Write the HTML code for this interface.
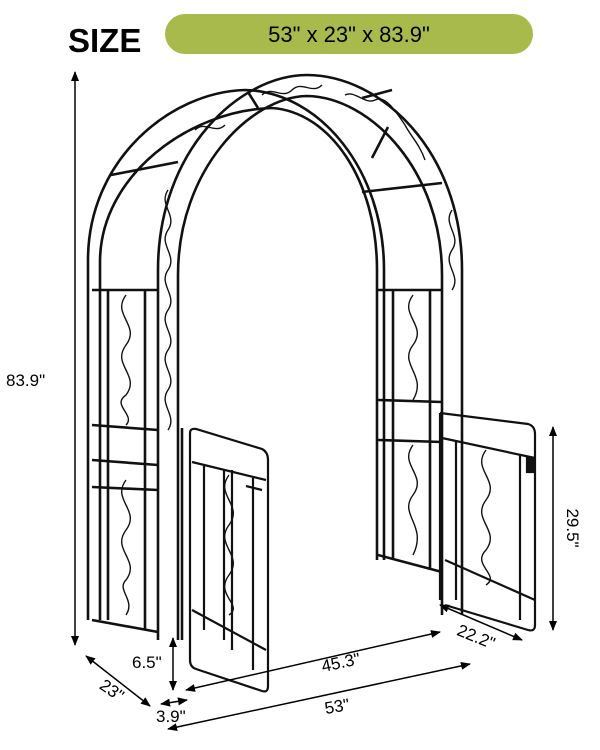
<!DOCTYPE html>
<html><head><meta charset="utf-8"><style>
html,body{margin:0;padding:0;background:#fff;}
svg{display:block;}
text{font-family:"Liberation Sans",Arial,sans-serif;}
</style></head><body>
<svg width="600" height="750" viewBox="0 0 600 750" xmlns="http://www.w3.org/2000/svg">
<defs>
<marker id="ah" markerWidth="10" markerHeight="10" refX="9" refY="5" orient="auto-start-reverse" markerUnits="userSpaceOnUse"><path d="M0,1 L10,5 L0,9 z" fill="#000"/></marker>
</defs>
<text x="68" y="52" font-size="33" font-weight="bold" fill="#000">SIZE</text>
<rect x="165" y="14" width="368" height="40" rx="20" fill="#a9ba4c"/>
<text x="349" y="42" font-size="22" text-anchor="middle" fill="#000">53" x 23" x 83.9"</text>

<g fill="none" stroke="#111" stroke-width="2.6">
<!-- back arch -->
<path d="M88 620 L88 260 C88 160 170 92 245 90 C320 92 384 170 384 270 L384 560"/>
<path d="M100 620 L100 262 C100 175 190 110 272 108 C330 112 377 180 377 270 L377 560"/>
<!-- front arch -->
<path d="M158 640 L158 270 C158 150 240 75 307 75 C380 75 462 150 462 270 L462 615"/>
<path d="M178 640 L178 275 C178 170 250 97 307 96 C370 97 442 170 442 275 L442 615"/>
<!-- connecting top bars -->
<path d="M111 175 L178 162 M248 92 L258 108 M362 98 L392 90 M362 192 L442 183 M388 127 L372 158"/>
<!-- left side panel -->
<path d="M92 290 L158 290 M92 425 L158 430 M92 460 L158 465 M92 487 L158 490 M92 620 L158 632"/>
<path d="M108 290 L108 620 M145 290 L145 630"/>
<!-- right side panel -->
<path d="M378 290 L442 290 M378 400 L442 402 M378 440 L442 442 M378 555 L442 572"/>
<path d="M393 290 L393 560 M430 290 L430 570"/>
<!-- hinge posts -->
<path d="M182 428 L182 640"/>
</g>
<g fill="none" stroke="#111" stroke-width="2.2">
<!-- left gate (perspective) -->
<path d="M190 433 Q190 428 196 429 L262 449 Q268 452 268 460 L268 686 Q268 693 262 691 L196 669 Q190 667 190 660 Z"/>
<path d="M192 462 L266 480 M192 610 L266 650 M204 466 L204 630 M253 478 L253 670 M224 470 L224 640 M232 470 L232 650 M246 486 L262 490"/>
<!-- right gate -->
<path d="M440 413 L528 424 Q535 426 535 434 L535 625 Q535 632 528 630 L445 605"/>
<path d="M440 413 L440 600 M442 438 L535 458 M445 560 L535 600 M456 440 L456 600 M520 455 L520 620"/>
<rect x="527" y="458" width="7" height="14" fill="#111"/>
</g>
<!-- scrolls -->
<g fill="none" stroke="#111" stroke-width="1.4">
<path d="M126 295 c-15 20 15 30 0 50 c-15 20 15 30 0 50 c-15 10 10 20 0 30"/>
<path d="M126 480 c-15 20 15 30 0 50 c-15 20 15 30 0 50 c-10 10 10 20 0 35"/>
<path d="M413 295 c-15 20 15 30 0 50 c-15 20 15 30 0 55"/>
<path d="M413 445 c-15 20 15 30 0 50 c-15 20 15 30 0 60"/>
<path d="M229 475 c-15 20 15 30 0 50 c-15 20 15 30 0 50 c-15 20 15 30 0 40"/>
<path d="M486 450 c-15 20 15 30 0 50 c-15 20 15 30 0 50 c-15 15 15 25 0 35"/>
<path d="M168 190 c-10 15 10 25 0 40 c-10 15 10 25 0 40 c-10 15 10 25 0 40 c-10 15 10 25 0 40 c-10 15 10 25 0 40 c-10 15 10 25 0 40"/>
<path d="M452 210 c-10 15 10 25 0 40 c-10 15 10 25 0 40"/>
<path d="M195 130 c10 -10 20 5 30 -5 M262 95 c10 -10 20 5 30 -5 c10 -10 20 5 30 -5"/>
<path d="M345 95 c10 -5 20 10 30 5 c10 -5 20 10 30 25 c5 10 15 20 20 35"/>
</g>

<!-- dimension lines -->
<g stroke="#000" stroke-width="1.5" fill="none">
<line x1="75" y1="72" x2="75" y2="645" marker-start="url(#ah)" marker-end="url(#ah)"/>
<line x1="553" y1="427" x2="553" y2="630" marker-start="url(#ah)" marker-end="url(#ah)"/>
<line x1="440" y1="605" x2="522" y2="640" marker-start="url(#ah)" marker-end="url(#ah)"/>
<line x1="186" y1="690" x2="440" y2="632" marker-start="url(#ah)" marker-end="url(#ah)"/>
<line x1="168" y1="729" x2="470" y2="664" marker-start="url(#ah)" marker-end="url(#ah)"/>
<line x1="86" y1="656" x2="150" y2="706" marker-start="url(#ah)" marker-end="url(#ah)"/>
<line x1="173" y1="638" x2="173" y2="690" marker-start="url(#ah)" marker-end="url(#ah)"/>
<line x1="161" y1="704" x2="187" y2="700" marker-start="url(#ah)" marker-end="url(#ah)"/>
</g>
<g font-size="17" fill="#000">
<text x="6" y="386">83.9"</text>
<text x="567" y="528" transform="rotate(90 567 528)" text-anchor="middle">29.5"</text>
<text x="474" y="642" transform="rotate(22 474 642)" text-anchor="middle">22.2"</text>
<text x="342" y="668" text-anchor="middle" transform="rotate(-12 342 668)">45.3"</text>
<text x="338" y="712" text-anchor="middle" transform="rotate(-10 338 712)">53"</text>
<text x="112" y="696" transform="rotate(35 112 690)" text-anchor="middle">23"</text>
<text x="132" y="668">6.5"</text>
<text x="156" y="722">3.9"</text>
</g>
</svg>
</body></html>
